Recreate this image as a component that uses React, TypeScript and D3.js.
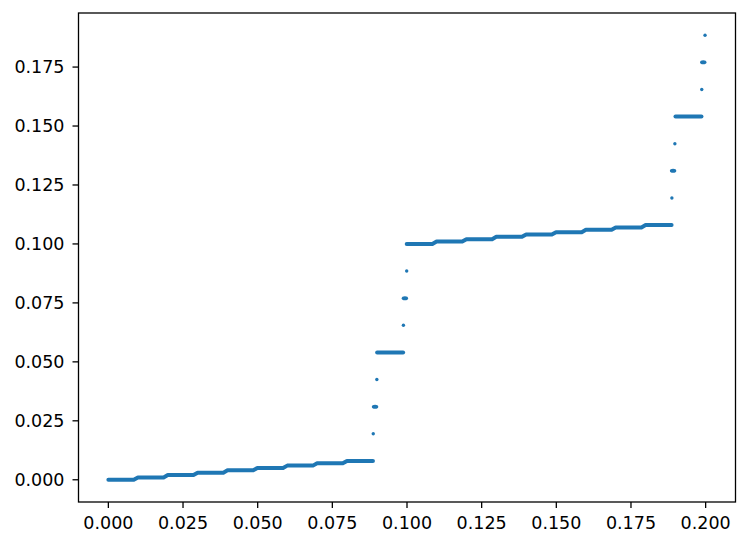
import React from 'react';
import * as d3 from 'd3';

// step levels below the first jump
const lowLevels = [0.000, 0.001, 0.002, 0.003, 0.004, 0.005, 0.006, 0.007, 0.008];
const lowStart = [0.0000, 0.0099, 0.0199, 0.0299, 0.0399, 0.0499, 0.0599, 0.0699, 0.0799];
const lowEnd = [0.0085, 0.0185, 0.0285, 0.0385, 0.0485, 0.0585, 0.0685, 0.0785, 0.0886];

// step levels between the jumps
const highLevels = [0.100, 0.101, 0.102, 0.103, 0.104, 0.105, 0.106, 0.107, 0.108];
const highStart = [0.0999, 0.1099, 0.1199, 0.1299, 0.1399, 0.1499, 0.1599, 0.1699, 0.1799];
const highEnd = [0.1085, 0.1185, 0.1285, 0.1385, 0.1485, 0.1585, 0.1685, 0.1785, 0.1886];

// wide plateaus inside the jumps
const plateauY = [0.054, 0.154];
const plateauStart = [0.0900, 0.1899];
const plateauEnd = [0.0987, 0.1986];

// isolated points (x0..x1 where several points overlap)
const jumpY = [0.0195, 0.031, 0.0425, 0.0655, 0.077, 0.0885, 0.1195, 0.131, 0.1425, 0.1655, 0.177, 0.1885];
const jumpX0 = [0.0887, 0.0889, 0.0899, 0.0988, 0.0989, 0.0999, 0.1887, 0.1887, 0.1897, 0.1987, 0.1988, 0.1998];
const jumpX1 = [0.0887, 0.0897, 0.0899, 0.0988, 0.0997, 0.0999, 0.1887, 0.1895, 0.1897, 0.1987, 0.1996, 0.1998];

const xTicks = [0, 0.025, 0.05, 0.075, 0.1, 0.125, 0.15, 0.175, 0.2];
const yTicks = [0, 0.025, 0.05, 0.075, 0.1, 0.125, 0.15, 0.175];

const W = 748;
const H = 546;
const BLUE = '#1f77b4';
const FONT = 'DejaVu Sans, sans-serif';

export default function App() {
  const left = 78.5, right = 735.5, top = 13, bottom = 502;
  const x = d3.scaleLinear().domain([-0.01, 0.21]).range([left, right]);
  const y = d3.scaleLinear().domain([-0.009425, 0.197925]).range([bottom, top]);

  const stair = (starts: number[], ends: number[], levels: number[]) => {
    const pts: [number, number][] = [];
    levels.forEach((lv, i) => {
      pts.push([starts[i], lv]);
      pts.push([ends[i], lv]);
    });
    return d3.line<[number, number]>().x(d => x(d[0])).y(d => y(d[1]))(pts) || '';
  };

  const fmt = d3.format('.3f');

  return (
    <div style={{ position: 'fixed', left: 0, top: 0 }}>
      <svg width={W} height={H} style={{ display: 'block', background: '#fff' }}>
        <g fill="none" stroke={BLUE} strokeWidth={4} strokeLinecap="round" strokeLinejoin="round">
          <path d={stair(lowStart, lowEnd, lowLevels)} />
          <path d={stair(highStart, highEnd, highLevels)} />
          {plateauY.map((v, i) => (
            <line key={i} x1={x(plateauStart[i])} x2={x(plateauEnd[i])} y1={y(v)} y2={y(v)} />
          ))}
        </g>
        <g fill={BLUE}>
          {jumpY.map((v, i) => {
            const a = x(jumpX0[i]), b = x(jumpX1[i]);
            const wide = b - a > 0.5;
            return (
              <ellipse key={i} cx={(a + b) / 2} cy={y(v)}
                rx={(b - a) / 2 + (wide ? 2 : 1.7)} ry={wide ? 2 : 1.7} />
            );
          })}
        </g>
        <rect x={left} y={top} width={right - left} height={bottom - top}
          fill="none" stroke="#000" strokeWidth={1.3} />
        <g stroke="#000" strokeWidth={1.3}>
          {xTicks.map(t => (
            <line key={t} x1={x(t)} x2={x(t)} y1={bottom} y2={bottom + 6} />
          ))}
          {yTicks.map(t => (
            <line key={t} x1={left - 6} x2={left} y1={y(t)} y2={y(t)} />
          ))}
        </g>
        <g fontFamily={FONT} fontSize={17.5} fill="#000">
          {xTicks.map(t => (
            <text key={t} x={x(t)} y={bottom + 27.3} textAnchor="middle">{fmt(t)}</text>
          ))}
          {yTicks.map(t => (
            <text key={t} x={left - 14} y={y(t)} dy="0.36em" textAnchor="end">{fmt(t)}</text>
          ))}
        </g>
      </svg>
    </div>
  );
}
